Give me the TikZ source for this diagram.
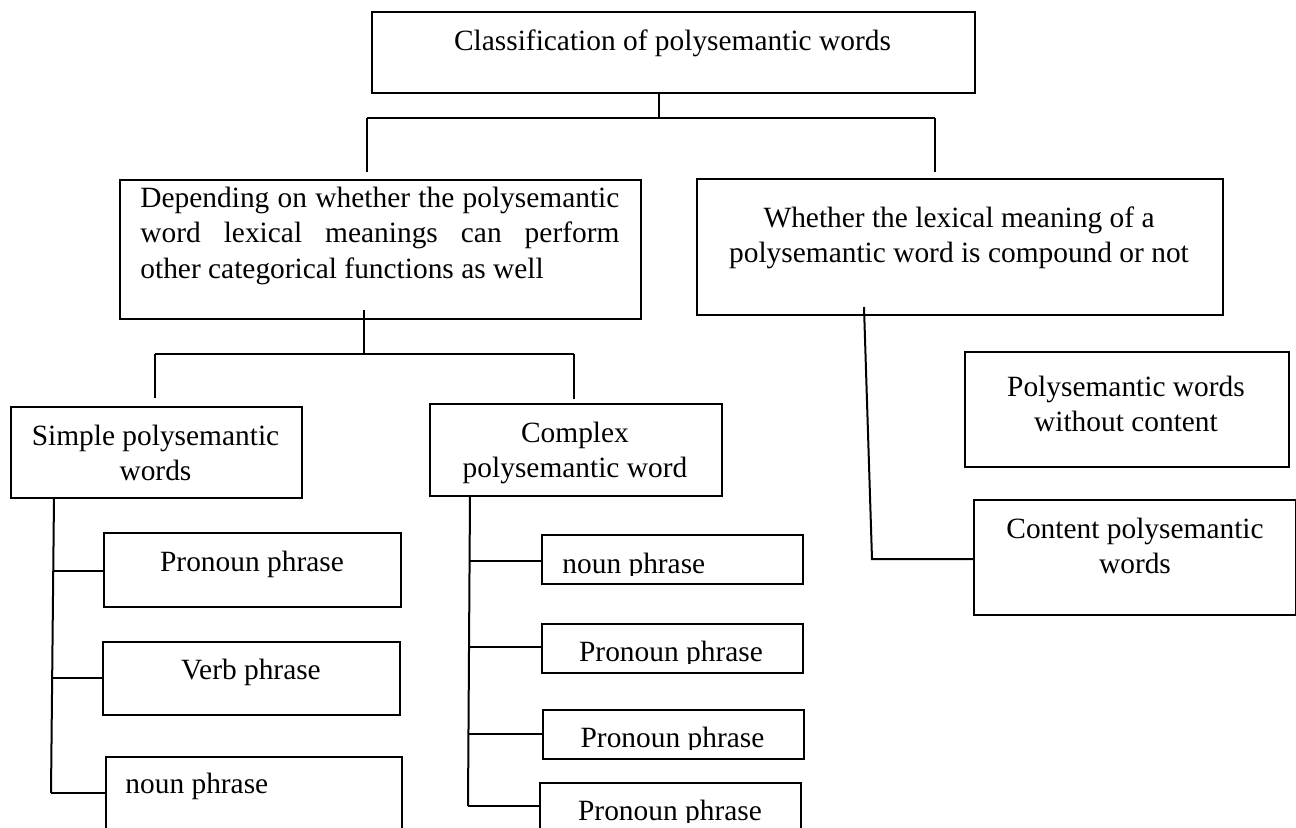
\documentclass[tikz,border=0pt]{standalone}
\usepackage{fontspec}
\setmainfont{Liberation Serif}
\begin{document}
\begin{tikzpicture}[x=0.5pt,y=-0.5pt,
  box/.style={draw, line width=1pt, inner sep=0pt, anchor=north west},
  txt/.style={inner sep=0pt, font=\fontsize{14.7pt}{17.75pt}\selectfont},
  link/.style={line width=1pt}]
\useasboundingbox (0,0) rectangle (1296,827);
\clip (0,0) rectangle (1296,827);

% boxes
\node[box, minimum width=301.5pt, minimum height=40.5pt] (top) at (371,11) {};
\node[box, minimum width=260.5pt, minimum height=69.5pt] (dep) at (119,179) {};
\node[box, minimum width=263pt, minimum height=68pt] (whe) at (696,178) {};
\node[box, minimum width=145.5pt, minimum height=45.5pt] (sim) at (10,406) {};
\node[box, minimum width=146pt, minimum height=46pt] (cpx) at (429,403) {};
\node[box, minimum width=148.5pt, minimum height=37pt] (pp1) at (103,532) {};
\node[box, minimum width=148.5pt, minimum height=36.5pt] (vp) at (102,641) {};
\node[box, minimum width=148pt, minimum height=45pt] (np1) at (105,756) {};
\node[box, minimum width=130.5pt, minimum height=24.5pt] (np2) at (541,534) {};
\node[box, minimum width=130.5pt, minimum height=24.5pt] (pp2) at (541,623) {};
\node[box, minimum width=130.5pt, minimum height=24.5pt] (pp3) at (542,709) {};
\node[box, minimum width=130.5pt, minimum height=30pt] (pp4) at (539,782) {};
\node[box, minimum width=162pt, minimum height=57.5pt] (pwc) at (964,351) {};
\node[box, minimum width=161pt, minimum height=57.5pt] (cpw) at (973,499) {};

% texts
\node[txt, anchor=base] (ttop) at (672.5,50) {Classification of polysemantic words};
\node[txt, anchor=north west, align=left] (tdep) at (140,182.15)
  {\makebox[239.5pt][s]{\strut Depending on whether the polysemantic}\\
   \makebox[239.5pt][s]{\strut word lexical meanings can perform}\\
   \strut other categorical functions as well};
\node[txt, anchor=north, align=center] (twhe) at (959,202.15)
  {\strut Whether the lexical meaning of a\\\strut polysemantic word is compound or not};
\node[txt, anchor=north, align=center] (tsim) at (155.5,420.15)
  {\strut Simple polysemantic\\\strut words};
\node[txt, anchor=north, align=center] (tcpx) at (575,417.15)
  {\strut Complex\\\strut polysemantic word};
\node[txt, anchor=base] (tpp1) at (252,571) {Pronoun phrase};
\node[txt, anchor=base] (tvp) at (251,679) {Verb phrase};
\node[txt, anchor=base west] (tnp1) at (125,793) {noun phrase};
\begin{scope}
  \clip (541,534) rectangle (802,575);
  \node[txt, anchor=base west] (tnp2) at (562,573) {noun phrase};
\end{scope}
\begin{scope}
  \clip (541,623) rectangle (802,663);
  \node[txt, anchor=base] (tpp2) at (671,661) {Pronoun phrase};
\end{scope}
\begin{scope}
  \clip (542,709) rectangle (803,749);
  \node[txt, anchor=base] (tpp3) at (672.5,747) {Pronoun phrase};
\end{scope}
\begin{scope}
  \clip (539,782) rectangle (800,822);
  \node[txt, anchor=base] (tpp4) at (670,820) {Pronoun phrase};
\end{scope}
\node[txt, anchor=north, align=center] (tpwc) at (1126,371.15)
  {\strut Polysemantic words\\\strut without content};
\node[txt, anchor=north, align=center] (tcpw) at (1135,513.15)
  {\strut Content polysemantic\\\strut words};

% junction coordinates
\coordinate (j0) at (659,118);
\coordinate (jl) at (367,118);
\coordinate (jr) at (935,118);
\coordinate (jlb) at (367,172);
\coordinate (jrb) at (935,172);
\coordinate (k0t) at (364,310);
\coordinate (k0) at (364,354);
\coordinate (kl) at (155,354);
\coordinate (kr) at (574,354);
\coordinate (klb) at (155,398);
\coordinate (krb) at (574,399);
\coordinate (st) at (54,497);
\coordinate (sa) at (53,571);
\coordinate (sv) at (51,678);
\coordinate (sb) at (51,793);
\coordinate (ct) at (470,495);
\coordinate (ca) at (470,561);
\coordinate (cb2) at (469,647);
\coordinate (cc) at (469,734);
\coordinate (cb) at (468,806);
\coordinate (wt) at (864,307);
\coordinate (wb) at (872,559);

% connectors
\draw[link] (top.south -| j0) -- (j0);
\draw[link] (jl) -- (jr);
\draw[link] (jl) -- (jlb);
\draw[link] (jr) -- (jrb);
\draw[link] (k0t) -- (k0);
\draw[link] (kl) -- (kr);
\draw[link] (kl) -- (klb);
\draw[link] (kr) -- (krb);
\draw[link] (st) -- (sb);
\draw[link] (sa) -- (sa -| pp1.west);
\draw[link] (sv) -- (sv -| vp.west);
\draw[link] (sb) -- (sb -| np1.west);
\draw[link] (ct) -- (cb);
\draw[link] (ca) -- (ca -| np2.west);
\draw[link] (cb2) -- (cb2 -| pp2.west);
\draw[link] (cc) -- (cc -| pp3.west);
\draw[link] (cb) -- (cb -| pp4.west);
\draw[link] (wt) -- (wb) -- (wb -| cpw.west);
\end{tikzpicture}
\end{document}
